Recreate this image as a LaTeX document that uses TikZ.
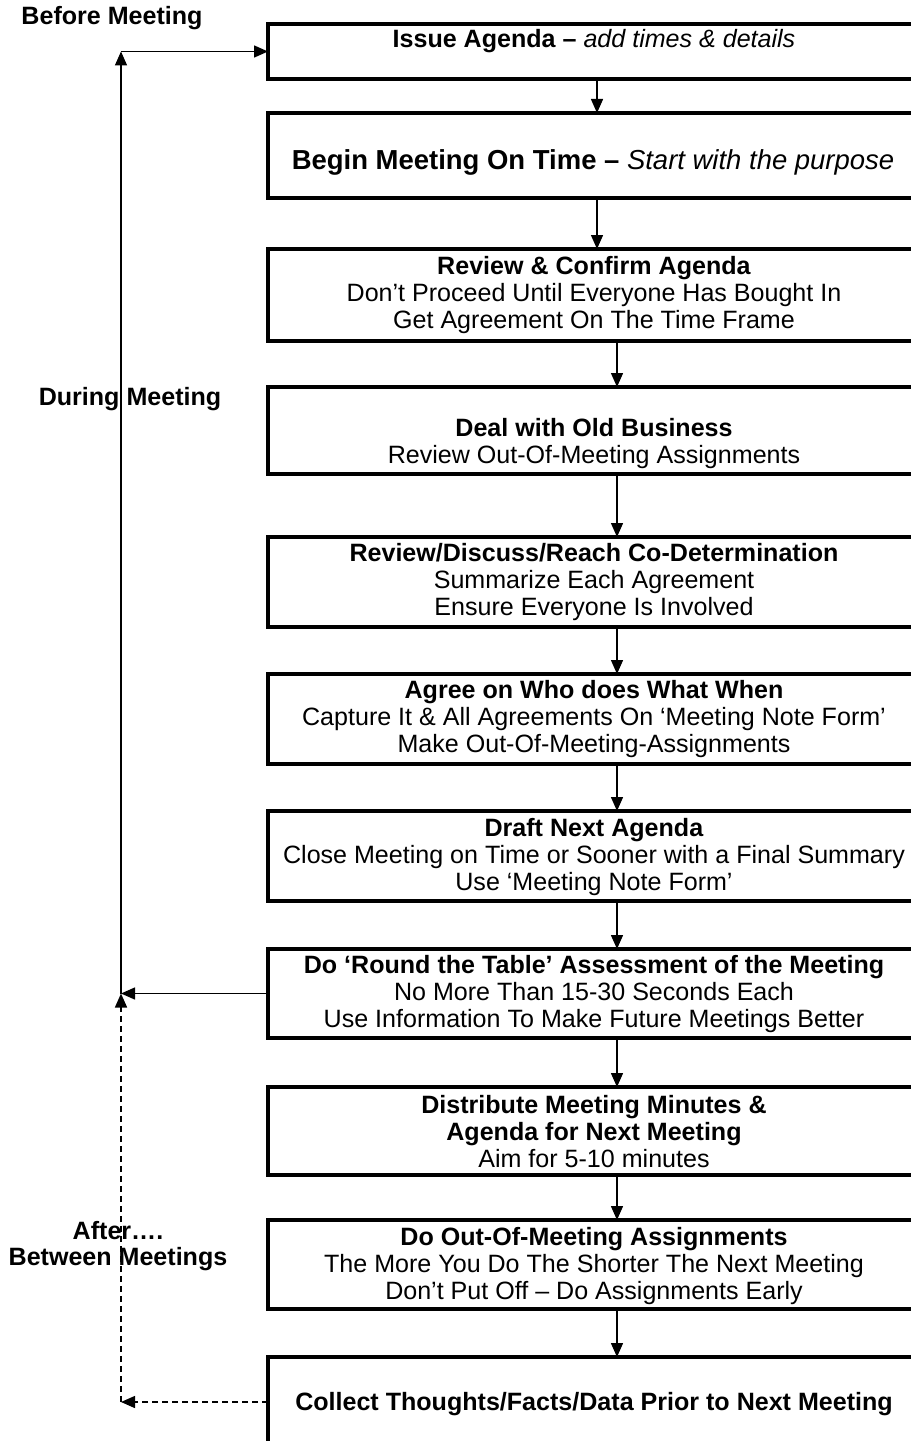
\documentclass[tikz,border=0pt]{standalone}
\usepackage{fontspec}
\setmainfont{Liberation Sans}
\usetikzlibrary{arrows.meta}

\newcommand{\px}{0.75pt}

\tikzset{
  stepbox/.style={draw, line width=3pt, anchor=north west, minimum width=692*\px,
    outer sep=0pt, inner sep=0pt},
  steptext/.style={align=center, inner sep=0pt, font=\fontsize{18.8}{20.25}\selectfont},
  phase/.style={align=center, inner sep=0pt, font=\fontsize{18.8}{19.5}\selectfont\bfseries},
  arr/.style={line width=1.1pt, -{Triangle[length=10.5pt,width=9pt]}},
  dash line/.style={dash pattern=on 4.5pt off 3pt},
}

\begin{document}
\begin{tikzpicture}[x=0.75pt, y=-0.75pt]
  \useasboundingbox (0,0) rectangle (910,1441);

  % boxes
  \node[stepbox, minimum height=55*\px] (agenda) at (268,24) {};
  \node[stepbox, minimum height=85*\px] (begin) at (268,113) {};
  \node[stepbox, minimum height=92*\px] (review) at (268,249) {};
  \node[stepbox, minimum height=87*\px] (old) at (268,387) {};
  \node[stepbox, minimum height=90*\px] (discuss) at (268,537) {};
  \node[stepbox, minimum height=90*\px] (who) at (268,674) {};
  \node[stepbox, minimum height=90*\px] (draft) at (268,811) {};
  \node[stepbox, minimum height=89*\px] (round) at (268,949) {};
  \node[stepbox, minimum height=88*\px] (minutes) at (268,1087) {};
  \node[stepbox, minimum height=89*\px] (assign) at (268,1220) {};
  \node[stepbox, minimum height=90*\px] (collect) at (268,1357) {};

  % texts
  \node[steptext] (t1) at (594,41) {\textbf{Issue Agenda --} \textit{add times \& details}};
  \node[steptext, font=\fontsize{20.6}{22}\selectfont] (t2) at (593,162) {\textbf{Begin Meeting On Time --} \textit{Start with the purpose}};
  \node[steptext] (t3) at (594,295.5) {\textbf{Review \& Confirm Agenda}\\Don’t Proceed Until Everyone Has Bought In\\Get Agreement On The Time Frame};
  \node[steptext] (t4) at (594,443.5) {\textbf{Deal with Old Business}\\Review Out-Of-Meeting Assignments};
  \node[steptext] (t5) at (594,582.5) {\textbf{Review/Discuss/Reach Co-Determination}\\Summarize Each Agreement\\Ensure Everyone Is Involved};
  \node[steptext] (t6) at (594,719.5) {\textbf{Agree on Who does What When}\\Capture It \& All Agreements On ‘Meeting Note Form’\\Make Out-Of-Meeting-Assignments};
  \node[steptext] (t7) at (594,857) {\textbf{Draft Next Agenda}\\Close Meeting on Time or Sooner with a Final Summary\\Use ‘Meeting Note Form’};
  \node[steptext] (t8) at (594,994.5) {\textbf{Do ‘Round the Table’ Assessment of the Meeting}\\No More Than 15-30 Seconds Each\\Use Information To Make Future Meetings Better};
  \node[steptext] (t9) at (594,1132) {\textbf{Distribute Meeting Minutes \&}\\\textbf{Agenda for Next Meeting}\\Aim for 5-10 minutes};
  \node[steptext] (t10) at (594,1266.5) {\textbf{Do Out-Of-Meeting Assignments}\\The More You Do The Shorter The Next Meeting\\Don’t Put Off -- Do Assignments Early};
  \node[steptext] (t11) at (594,1404) {\textbf{Collect Thoughts/Facts/Data Prior to Next Meeting}};

  % arrows down
  \coordinate (ca) at (597,0);
  \coordinate (cb) at (617,0);
  \draw[arr] (agenda.south -| ca) -- (begin.north -| ca);
  \draw[arr] (begin.south -| ca) -- (review.north -| ca);
  \draw[arr] (review.south -| cb) -- (old.north -| cb);
  \draw[arr] (old.south -| cb) -- (discuss.north -| cb);
  \draw[arr] (discuss.south -| cb) -- (who.north -| cb);
  \draw[arr] (who.south -| cb) -- (draft.north -| cb);
  \draw[arr] (draft.south -| cb) -- (round.north -| cb);
  \draw[arr] (round.south -| cb) -- (minutes.north -| cb);
  \draw[arr] (minutes.south -| cb) -- (assign.north -| cb);
  \draw[arr] (assign.south -| cb) -- (collect.north -| cb);

  % loop back
  \coordinate (jn) at (121,993.5);
  \coordinate (tp) at (121,51.5);
  \coordinate (bt) at (121,1402);
  \draw[arr] (round.west) -- (jn);
  \draw[arr] (jn) -- (tp);
  \draw[arr] (tp) -- (agenda.west);
  \draw[arr, dash line] (collect.west) -- (bt);
  \draw[arr, dash line] (bt) -- (jn);

  % phases
  \node[phase] (before) at (112,18) {Before Meeting};
  \node[phase] (during) at (130,399) {During Meeting};
  \node[phase] (after) at (118,1246) {After….\\Between Meetings};
\end{tikzpicture}
\end{document}
